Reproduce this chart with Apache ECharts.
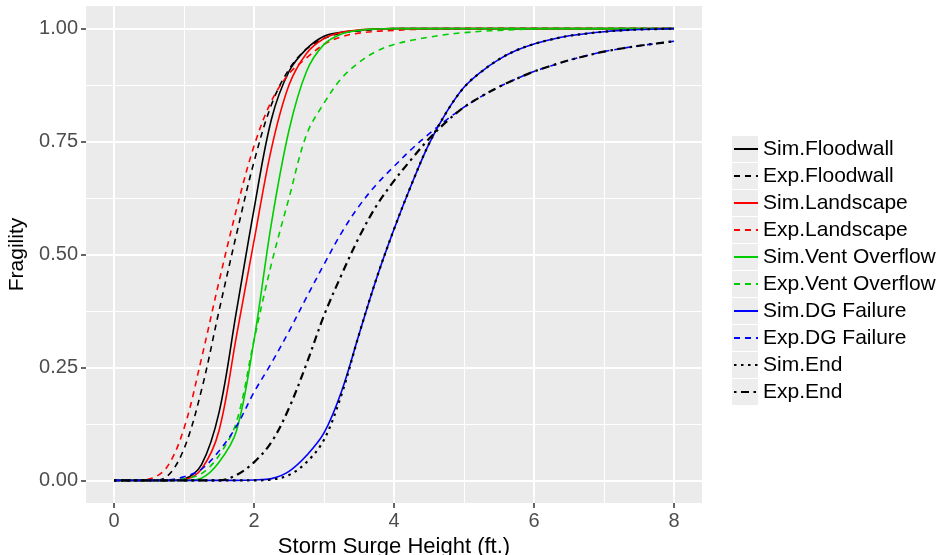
<!DOCTYPE html>
<html>
<head>
<meta charset="utf-8">
<script src="https://cdn.jsdelivr.net/npm/echarts@6/dist/echarts.min.js"></script>
<style>
  html, body { margin: 0; padding: 0; background: #ffffff; }
  #chart { width: 946px; height: 555px; }
</style>
</head>
<body>
<div id="chart"></div>
<script>
// Storm surge height (ft.) at which each fragility curve is sampled
const surgeHeights = [0, 0.25, 0.5, 0.75, 1, 1.25, 1.5, 1.75, 2, 2.25, 2.5, 2.75, 3, 3.25, 3.5, 3.75,
                      4, 4.25, 4.5, 4.75, 5, 5.25, 5.5, 5.75, 6, 6.25, 6.5, 6.75, 7, 7.25, 7.5, 7.75, 8];

// Fragility (probability of failure) per component
const simFloodwall    = [0, 0, 0, 0, 0.003, 0.035, 0.15, 0.375, 0.60, 0.80, 0.905, 0.955, 0.983, 0.992, 0.996, 0.999,
                         1, 1, 1, 1, 1, 1, 1, 1, 1, 1, 1, 1, 1, 1, 1, 1, 1];
const expFloodwall    = [0, 0, 0, 0.008, 0.07, 0.20, 0.375, 0.545, 0.705, 0.832, 0.91, 0.955, 0.978, 0.99, 0.995, 0.998,
                         1, 1, 1, 1, 1, 1, 1, 1, 1, 1, 1, 1, 1, 1, 1, 1, 1];
const simLandscape    = [0, 0, 0, 0, 0.002, 0.025, 0.11, 0.32, 0.53, 0.735, 0.875, 0.945, 0.978, 0.992, 0.997, 0.999,
                         1, 1, 1, 1, 1, 1, 1, 1, 1, 1, 1, 1, 1, 1, 1, 1, 1];
const expLandscape    = [0, 0, 0.003, 0.028, 0.115, 0.27, 0.44, 0.60, 0.74, 0.84, 0.90, 0.935, 0.965, 0.982, 0.99, 0.994,
                         0.996, 0.998, 0.999, 1, 1, 1, 1, 1, 1, 1, 1, 1, 1, 1, 1, 1, 1];
const simVentOverflow = [0, 0, 0, 0, 0, 0.005, 0.04, 0.11, 0.31, 0.57, 0.775, 0.905, 0.965, 0.988, 0.996, 0.999,
                         1, 1, 1, 1, 1, 1, 1, 1, 1, 1, 1, 1, 1, 1, 1, 1, 1];
const expVentOverflow = [0, 0, 0, 0, 0.003, 0.015, 0.055, 0.13, 0.31, 0.48, 0.625, 0.765, 0.835, 0.89, 0.925, 0.95,
                         0.965, 0.974, 0.981, 0.987, 0.991, 0.994, 0.996, 0.998, 0.999, 1, 1, 1, 1, 1, 1, 1, 1];
const simDGFailure    = [0, 0, 0, 0, 0, 0, 0, 0, 0.001, 0.004, 0.02, 0.055, 0.105, 0.197, 0.323, 0.447,
                         0.556, 0.655, 0.745, 0.815, 0.87, 0.905, 0.932, 0.952, 0.966, 0.976, 0.984, 0.989, 0.993, 0.996, 0.998, 0.999, 1];
const expDGFailure    = [0, 0, 0, 0.001, 0.008, 0.025, 0.065, 0.12, 0.195, 0.26, 0.33, 0.405, 0.478, 0.548, 0.607, 0.655,
                         0.695, 0.733, 0.767, 0.798, 0.826, 0.85, 0.871, 0.889, 0.905, 0.918, 0.93, 0.94, 0.949, 0.956, 0.962, 0.967, 0.972];
const simEnd          = [0, 0, 0, 0, 0, 0, 0, 0, 0, 0.002, 0.012, 0.04, 0.09, 0.19, 0.323, 0.447,
                         0.556, 0.655, 0.745, 0.815, 0.87, 0.905, 0.932, 0.952, 0.966, 0.976, 0.984, 0.989, 0.993, 0.996, 0.998, 0.999, 1];
const expEnd          = [0, 0, 0, 0, 0, 0, 0, 0.012, 0.04, 0.085, 0.16, 0.258, 0.365, 0.455, 0.538, 0.608,
                         0.663, 0.711, 0.756, 0.794, 0.826, 0.85, 0.871, 0.889, 0.905, 0.918, 0.93, 0.94, 0.949, 0.956, 0.962, 0.967, 0.972];

// Axis ticks
const xTicks = [0, 2, 4, 6, 8];
const xMinorTicks = [1, 3, 5, 7];
const yTicks = [0, 0.25, 0.5, 0.75, 1];
const yMinorTicks = [0.125, 0.375, 0.625, 0.875];

const seriesNames = [
  'Sim.Floodwall', 'Exp.Floodwall', 'Sim.Landscape', 'Exp.Landscape',
  'Sim.Vent Overflow', 'Exp.Vent Overflow', 'Sim.DG Failure', 'Exp.DG Failure',
  'Sim.End', 'Exp.End'
];
const seriesValues = [
  simFloodwall, expFloodwall, simLandscape, expLandscape,
  simVentOverflow, expVentOverflow, simDGFailure, expDGFailure,
  simEnd, expEnd
];

// Line appearance per series (colour, dash pattern, width)
const DASHED = [6, 5];
const DOTTED = [2.5, 4.5];
const DOTDASH = [2.5, 4.5, 8, 4.5];
const lineLooks = [
  { color: '#000000', type: 'solid', width: 1.6 },
  { color: '#000000', type: DASHED, width: 1.6 },
  { color: '#FF0000', type: 'solid', width: 1.6 },
  { color: '#FF0000', type: DASHED, width: 1.6 },
  { color: '#00CD00', type: 'solid', width: 1.6 },
  { color: '#00CD00', type: DASHED, width: 1.6 },
  { color: '#0000FF', type: 'solid', width: 1.6 },
  { color: '#0000FF', type: DASHED, width: 1.6 },
  { color: '#000000', type: DOTTED, width: 2.2 },
  { color: '#000000', type: DOTDASH, width: 2.2 }
];

const FONT = '"Liberation Sans", Arial, sans-serif';

const series = seriesNames.map((name, i) => ({
  name: name,
  type: 'line',
  xAxisIndex: 0,
  yAxisIndex: 0,
  data: surgeHeights.map((x, k) => [x, seriesValues[i][k]]),
  smooth: 0.35,
  symbol: 'none',
  showSymbol: false,
  lineStyle: {
    color: lineLooks[i].color,
    type: lineLooks[i].type,
    width: lineLooks[i].width,
    cap: 'butt'
  },
  itemStyle: { color: lineLooks[i].color },
  emphasis: { disabled: true },
  z: 3
}));

const chart = echarts.init(document.getElementById('chart'), null, { renderer: 'canvas' });

chart.setOption({
  animation: false,
  backgroundColor: '#ffffff',
  textStyle: { fontFamily: FONT },
  grid: {
    left: 86, right: 244, top: 6, bottom: 52,
    show: true,
    backgroundColor: '#EBEBEB',
    borderWidth: 0,
    containLabel: false,
    outerBoundsMode: 'none'
  },
  xAxis: [
    {
      type: 'value',
      min: -0.4, max: 8.4,
      position: 'bottom',
      axisLine: { show: false, onZero: false },
      axisTick: { show: true, length: 5, customValues: xTicks, lineStyle: { color: '#333333', width: 1.5 } },
      axisLabel: { customValues: xTicks, fontSize: 20, color: '#4D4D4D', margin: 8, fontFamily: FONT },
      splitLine: { show: true, lineStyle: { color: '#FFFFFF', width: 2 } },
      name: 'Storm Surge Height (ft.)',
      nameLocation: 'middle',
      nameGap: 31,
      nameTextStyle: { fontSize: 22, color: '#000000', fontFamily: FONT }
    },
    {
      type: 'value',
      min: -0.4, max: 8.4,
      position: 'bottom',
      axisLine: { show: false, onZero: false },
      axisTick: { show: false, customValues: xMinorTicks },
      axisLabel: { show: false, customValues: xMinorTicks },
      splitLine: { show: true, lineStyle: { color: '#FFFFFF', width: 1 } }
    }
  ],
  yAxis: [
    {
      type: 'value',
      min: -0.05, max: 1.05,
      position: 'left',
      axisLine: { show: false, onZero: false },
      axisTick: { show: true, length: 5, customValues: yTicks, lineStyle: { color: '#333333', width: 1.5 } },
      axisLabel: {
        customValues: yTicks, fontSize: 20, color: '#4D4D4D', margin: 8, fontFamily: FONT,
        formatter: v => Number(v).toFixed(2)
      },
      splitLine: { show: true, lineStyle: { color: '#FFFFFF', width: 2 } },
      name: 'Fragility',
      nameLocation: 'middle',
      nameGap: 52,
      nameTextStyle: { fontSize: 21, color: '#000000', fontFamily: FONT }
    },
    {
      type: 'value',
      min: -0.05, max: 1.05,
      position: 'left',
      axisLine: { show: false, onZero: false },
      axisTick: { show: false, customValues: yMinorTicks },
      axisLabel: { show: false, customValues: yMinorTicks },
      splitLine: { show: true, lineStyle: { color: '#FFFFFF', width: 1 } }
    }
  ],
  legend: [
    {
      // grey key squares behind the legend lines
      orient: 'vertical',
      left: 727, top: 131,
      itemWidth: 26, itemHeight: 26, itemGap: 1,
      icon: 'rect',
      selectedMode: false,
      formatter: () => '',
      itemStyle: { color: '#EDEDED', borderWidth: 0 },
      textStyle: { fontSize: 12 },
      data: seriesNames,
      z: 3
    },
    {
      orient: 'vertical',
      left: 728, top: 131,
      itemWidth: 24, itemHeight: 26, itemGap: 1,
      selectedMode: false,
      itemStyle: { opacity: 0 },
      textStyle: { fontSize: 21, color: '#000000', lineHeight: 26, padding: [0, 0, 0, 0], fontFamily: FONT },
      data: seriesNames,
      z: 4
    }
  ],
  series: series
});
</script>
</body>
</html>
